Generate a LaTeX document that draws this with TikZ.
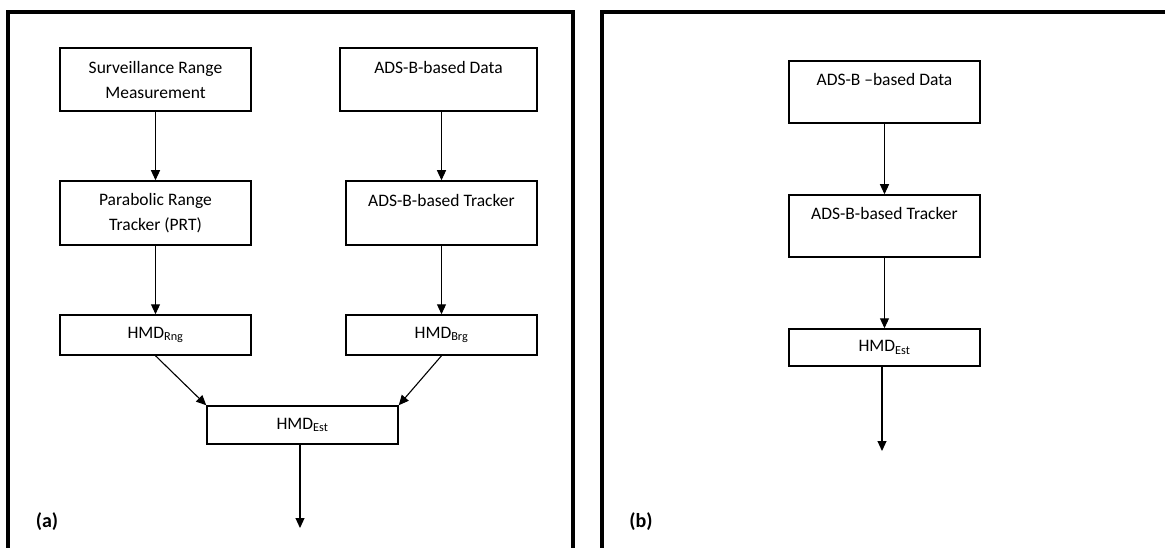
\documentclass[tikz,border=0pt]{standalone}
\usepackage{fontspec}
\setmainfont{Carlito}
\usetikzlibrary{arrows.meta}
\begin{document}
\begin{tikzpicture}[x=1pt,y=-1pt,
  box/.style={draw,line width=1.5pt,inner sep=0pt,align=center,font=\fontsize{17.5}{25}\selectfont},
  conn/.style={line width=1.1pt,-{Triangle[width=9pt,length=10pt]}},
  frame/.style={line width=3.2pt},
  panel/.style={font=\fontsize{20}{22}\selectfont\bfseries}]
\useasboundingbox (0,0) rectangle (1165,548);
% frames
\draw[frame] (8,548) -- (8,12) -- (573,12) -- (573,548);
\draw[frame] (602,548) -- (602,12) -- (1166,12);
% panel (a)
\node[box,minimum width=191pt,minimum height=63pt] (srm) at (155.5,79.5) {Surveillance Range\\Measurement};
\node[box,minimum width=197pt,minimum height=63pt] (add) at (438.5,79.5) {ADS-B-based Data\\\mbox{}};
\node[box,minimum width=191pt,minimum height=64pt] (prt) at (155.5,213) {Parabolic Range\\Tracker (PRT)};
\node[box,minimum width=191pt,minimum height=64pt] (adt) at (441.5,213) {ADS-B-based Tracker\\\mbox{}};
\node[box,minimum width=191pt,minimum height=40pt] (rng) at (155.5,335) {HMD\textsubscript{Rng}};
\node[box,minimum width=191pt,minimum height=40pt] (brg) at (441.5,335) {HMD\textsubscript{Brg}};
\node[box,minimum width=191pt,minimum height=38pt] (est) at (302.5,425) {HMD\textsubscript{Est}};
\coordinate (outa) at (300,528);
\draw[conn] (srm.south) -- (prt.north);
\draw[conn] (adt.north |- add.south) -- (adt.north);
\draw[conn] (prt.south) -- (rng.north);
\draw[conn] (adt.south) -- (brg.north);
\draw[conn] (rng.south) -- (est.north west);
\draw[conn] (brg.south) -- (est.north east);
\draw[conn] (outa |- est.south) -- (outa);
\node[panel] (la) at (47,522) {(a)};
% panel (b)
\node[box,minimum width=191pt,minimum height=62pt] (bd) at (884.5,92) {ADS-B –based Data\\\mbox{}};
\node[box,minimum width=191pt,minimum height=62pt] (bt) at (884.5,226) {ADS-B-based Tracker\\\mbox{}};
\node[box,minimum width=191pt,minimum height=37pt] (be) at (884.5,347.5) {HMD\textsubscript{Est}};
\coordinate (outb) at (882,451);
\draw[conn] (bd.south) -- (bt.north);
\draw[conn] (bt.south) -- (be.north);
\draw[conn] (outb |- be.south) -- (outb);
\node[panel] (lb) at (641,522) {(b)};
\end{tikzpicture}
\end{document}
